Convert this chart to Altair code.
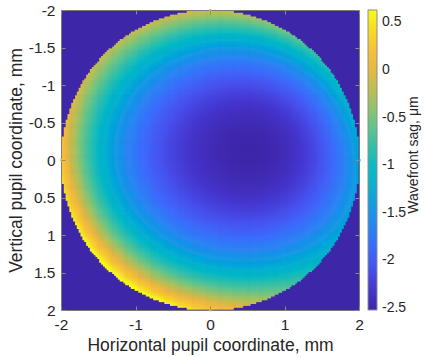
import numpy as np
import pandas as pd
import altair as alt

# Wavefront sag (µm) over the pupil, described by expansion coefficients.
# r, phi: polar pupil coordinates (mm); "edge" terms are weighted by (r/2)^6.
wave_terms = ["piston", "r^2", "r^4", "x", "y", "x^2-y^2",
              "edge sin2phi", "edge cosphi", "edge cos4phi"]
wave_coefs = [-2.42, 0.364, 0.044, -0.328, 0.109, -0.075, -0.275, -0.15, 0.06]
pupil_radius = 2.0

x_ticks = [-2, -1, 0, 1, 2]
y_ticks = [-2, -1.5, -1, -0.5, 0, 0.5, 1, 1.5, 2]
cbar_ticks = [0.5, 0, -0.5, -1, -1.5, -2, -2.5]
cbar_domain = [-2.52, 0.63]
cbar_title = ["Wavefront sag, μm"]
parula = ["#3e26a8", "#4536cf", "#4752ef", "#3d6cfc", "#2f85f2", "#1d9be2",
          "#0eb0d0", "#11bbc0", "#3cc1a3", "#6ec585", "#a7c162", "#d5b948",
          "#f7ba3c", "#f5d02c", "#f9fb15"]
parula_pos = [0.0, 0.07, 0.14, 0.21, 0.28, 0.35, 0.42, 0.49, 0.56, 0.63, 0.70,
              0.77, 0.84, 0.91, 1.0]

# evaluate the surface on the pupil sampling grid
n = 161
g = np.linspace(-pupil_radius, pupil_radius, n)
step = g[1] - g[0]
X, Y = np.meshgrid(g, g)
R = np.sqrt(X**2 + Y**2)
PHI = np.arctan2(Y, X)
k = dict(zip(wave_terms, wave_coefs))
edge = (R / pupil_radius) ** 6
W = (k["piston"] + k["r^2"] * R**2 + k["r^4"] * R**4 + k["x"] * X + k["y"] * Y
     + k["x^2-y^2"] * (X**2 - Y**2)
     + edge * (k["edge sin2phi"] * np.sin(2 * PHI) + k["edge cosphi"] * np.cos(PHI)
               + k["edge cos4phi"] * np.cos(4 * PHI)))
mask = R <= pupil_radius + 1e-9
df = pd.DataFrame({"px": X[mask], "py": Y[mask], "w": W[mask]})
df["xa"] = df["px"] - step / 2
df["xb"] = df["px"] + step * 0.8
df["ya"] = df["py"] - step / 2
df["yb"] = df["py"] + step * 0.8
df = df[["xa", "xb", "ya", "yb", "w"]].round(4)

FONT = "Liberation Sans"
TXT = "#262626"
TICKS = dict(ticks=True, tickSize=alt.ExprRef(expr="-4"), tickColor="#8a8a8a",
             tickWidth=1, zindex=2)

lo, hi = cbar_domain
color_domain = [lo + p * (hi - lo) for p in parula_pos]

xscale = alt.Scale(domain=[-2, 2], nice=False, zero=False)
yscale = alt.Scale(domain=[-2, 2], nice=False, zero=False, reverse=True)

heat = alt.Chart(df).mark_rect(strokeWidth=0).encode(
    x=alt.X("xa:Q", scale=xscale,
            axis=alt.Axis(values=x_ticks, title="Horizontal pupil coordinate, mm",
                          labelExpr="'' + datum.value", orient="bottom", **TICKS)),
    x2="xb:Q",
    y=alt.Y("ya:Q", scale=yscale,
            axis=alt.Axis(values=y_ticks, title="Vertical pupil coordinate, mm",
                          labelExpr="'' + datum.value", orient="left", **TICKS)),
    y2="yb:Q",
    color=alt.Color("w:Q",
                    scale=alt.Scale(domain=color_domain, range=parula, clamp=True,
                                    nice=False, zero=False),
                    legend=alt.Legend(title=None, values=cbar_ticks,
                                      labelExpr="'' + datum.value",
                                      orient="none", legendX=307, legendY=0,
                                      direction="vertical",
                                      gradientLength=300, gradientThickness=9,
                                      gradientStrokeColor="#8c8c8c",
                                      gradientStrokeWidth=1,
                                      labelFont=FONT, labelFontSize=14,
                                      labelColor=TXT, labelOffset=5,
                                      padding=0)),
)

# mirror axes (top / right) carrying only the inward tick marks
tick_df = pd.DataFrame({"t": [0.0]})
mirror = alt.Chart(tick_df).mark_point(opacity=0).encode(
    x=alt.X("t:Q", scale=xscale,
            axis=alt.Axis(values=x_ticks, orient="top", labels=False, title=None,
                          **TICKS)),
    y=alt.Y("t:Q", scale=yscale,
            axis=alt.Axis(values=y_ticks, orient="right", labels=False, title=None,
                          **TICKS)),
)

title_df = pd.DataFrame({"label": cbar_title})
cb_title = alt.Chart(title_df).mark_text(
    angle=270, align="center", baseline="middle", font=FONT, fontSize=14,
    color=TXT).encode(text="label:N", x=alt.value(353), y=alt.value(145))

chart = alt.layer(heat, mirror, cb_title).resolve_axis(
    x="independent", y="independent"
).properties(
    width=298, height=300,
    padding={"left": 61, "top": 10, "right": 65, "bottom": 48},
    autosize=alt.AutoSizeParams(type="none"),
    background="white",
).configure_view(
    fill="#3e26a8", stroke="#7a7a7a", strokeWidth=1
).configure_axis(
    labelFont=FONT, titleFont=FONT, labelFontSize=15.5, titleFontSize=17.5,
    labelColor=TXT, titleColor=TXT, titleFontWeight="normal",
    domain=False, grid=False, labelFlush=False,
).configure_axisX(titlePadding=4, labelPadding=11
).configure_axisY(titlePadding=3, labelPadding=10)

chart.save("out.html", embed_options={"renderer": "svg", "actions": False})
